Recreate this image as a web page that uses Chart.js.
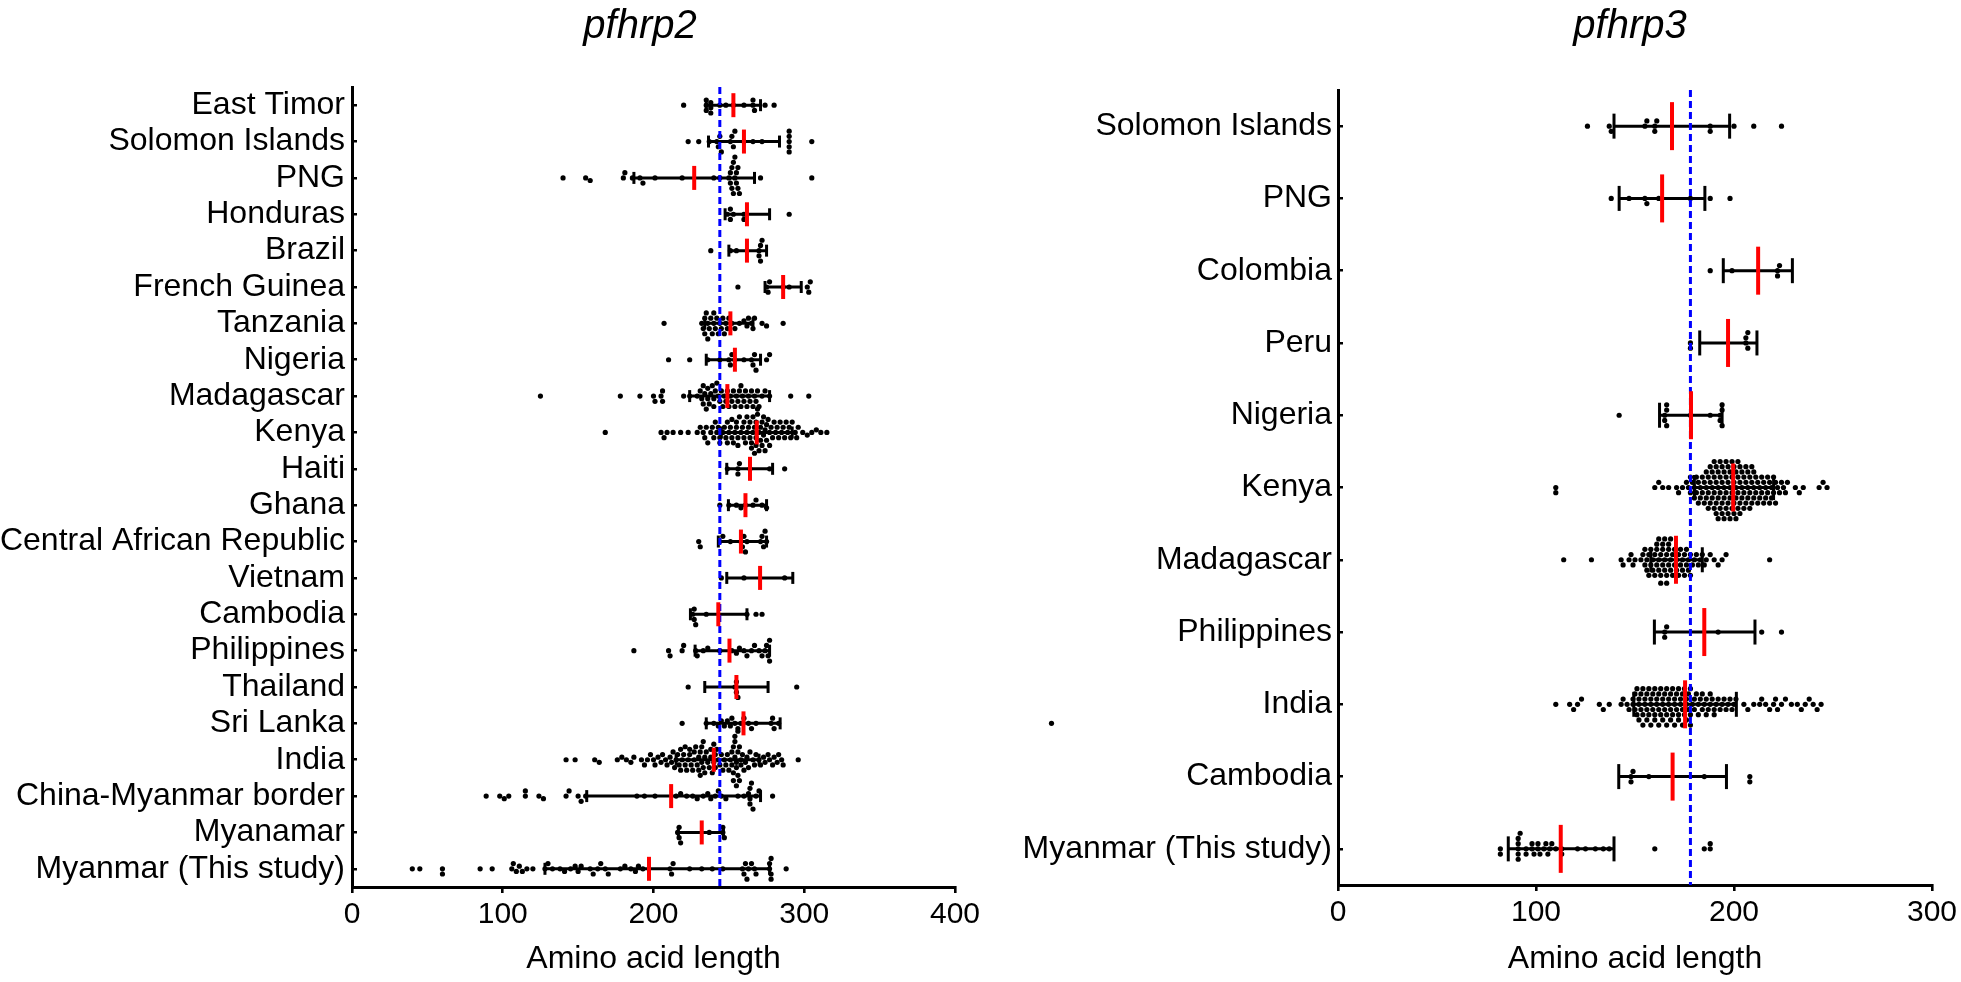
<!DOCTYPE html>
<html>
<head>
<meta charset="utf-8">
<script src="https://cdn.jsdelivr.net/npm/chart.js@4.4.1/dist/chart.umd.min.js"></script>
<style>
  html, body { margin: 0; padding: 0; background: #fff; }
  body { width: 1961px; height: 982px; position: relative; overflow: hidden; font-family: "Liberation Sans", Arial, sans-serif; }
  canvas { position: absolute; top: 0; }
  #leftChart { left: 0; }
  #rightChart { left: 980px; }
  .panel-title { position: absolute; top: 4px; font-size: 40px; line-height: 40px; font-style: italic; color: #000; transform: translateX(-50%); white-space: nowrap; }
</style>
</head>
<body>
<canvas id="leftChart" width="1100" height="982"></canvas>
<canvas id="rightChart" width="981" height="982"></canvas>
<div class="panel-title" style="left:640px">pfhrp2</div>
<div class="panel-title" style="left:1630px">pfhrp3</div>
<script>
// pfhrp2 - paises (de arriba hacia abajo)
const hrp2Countries = ['East Timor', 'Solomon Islands', 'PNG', 'Honduras', 'Brazil', 'French Guinea', 'Tanzania', 'Nigeria',
  'Madagascar', 'Kenya', 'Haiti', 'Ghana', 'Central African Republic', 'Vietnam', 'Cambodia', 'Philippines', 'Thailand',
  'Sri Lanka', 'India', 'China-Myanmar border', 'Myanamar', 'Myanmar (This study)'];

// longitudes, una lista por país
const hrp2Lengths = [
  [220, 235, 235, 235, 238, 238, 238, 244, 248, 253, 260, 266, 266, 267, 274, 280],
  [223, 230, 237, 242, 243, 244, 245, 251, 252, 253, 254, 260, 266, 272, 290, 290, 290, 290, 290, 305],
  [140, 155, 158, 180, 181, 186, 191, 193, 201, 219, 240, 244, 250, 251, 251, 252, 252, 253, 253, 254, 254, 255, 255, 256, 256, 257, 271, 305],
  [249, 251, 251, 253, 260, 260, 290],
  [238, 251, 255, 270, 270, 271, 271, 272],
  [256, 275, 276, 277, 286, 290, 302, 303, 304],
  [207, 232, 233, 234, 234, 235, 236, 236, 237, 238, 239, 240, 240, 241, 242, 243, 244, 245, 246, 247, 248, 249, 250, 252, 254, 257, 260, 262, 263, 265, 266, 267, 272, 275, 286],
  [210, 224, 236, 244, 250, 251, 252, 254, 260, 265, 266, 267, 268, 275, 277],
  [125, 178, 191, 200, 201, 205, 206, 206, 220, 224, 229, 231, 232, 233, 233, 234, 235, 236, 236, 237, 238, 239, 240, 240, 241, 242, 243, 244,
   245, 246, 247, 248, 249, 250, 251, 252, 253, 254, 255, 256, 257, 258, 258, 259, 260, 261, 262, 263, 264, 265, 266, 267, 268, 269, 270, 272, 274, 277, 291, 303],
  [168, 205, 207, 209, 213, 218, 223, 229, 231, 233, 234, 235, 236, 238, 239, 240, 241, 242, 243, 244, 244,
   246, 247, 248, 249, 249, 250, 251, 252, 252, 253, 254, 255, 255, 256, 256,
   257, 258, 259, 260, 260, 261, 262, 262, 263, 264, 264, 265, 265, 266, 266, 267, 267, 268, 268, 268, 269, 269, 270, 270, 271, 271,
   272, 272, 273, 273, 274, 274, 275, 275, 276, 277, 277, 278, 279, 280,
   281, 282, 283, 284, 285, 286, 287, 288, 289, 290, 291, 292, 294, 295, 296, 299, 302, 305, 308, 311, 315],
  [249, 256, 256, 257, 264, 277, 287],
  [244, 250, 255, 258, 261, 266, 268, 272, 275],
  [230, 231, 244, 246, 251, 258, 259, 260, 261, 262, 271, 272, 273, 274, 275],
  [245, 260, 287],
  [226, 227, 227, 228, 235, 262, 268, 272],
  [187, 210, 211, 219, 220, 228, 229, 233, 236, 244, 252, 255, 257, 260, 262, 265, 267, 270, 272, 274, 275, 276, 277, 277],
  [223, 254, 255, 255, 256, 295],
  [219, 235, 240, 243, 245, 247, 249, 251, 252, 254, 256, 258, 260, 263, 265, 268, 278, 279, 280, 283, 464],
  [142, 148, 161, 164, 176, 179, 182, 185, 187, 192, 194, 196, 198, 200, 201, 203, 205, 206, 208, 209, 211, 212,
   213, 214, 215, 216, 217, 218, 218, 219, 220, 221, 221, 222, 223, 224, 224, 225, 226, 227, 227, 228, 229, 230, 230, 231, 231, 232, 232,
   233, 233, 234, 234, 235, 236, 237, 238, 238, 239, 240, 240, 241, 241, 242, 243, 244, 245,
   246, 247, 248, 249, 250, 251, 252, 252, 253, 253, 253, 254, 254, 254, 255, 255, 255, 256, 256, 256, 257, 257, 258, 258, 259, 260, 261,
   262, 263, 264, 266, 267, 268, 270, 271, 273, 274, 276, 277, 279, 280, 282, 283, 285, 286, 296],
  [89, 98, 101, 104, 115, 115, 124, 127, 142, 144, 150, 152, 155, 189, 194, 201, 215, 218, 222, 226, 229, 233, 236, 238, 241, 243, 245, 248,
   256, 260, 263, 264, 264, 264, 265, 266, 268, 270, 279],
  [216, 217, 217, 218, 237, 246, 246, 247],
  [40, 45, 60, 60, 85, 93, 106, 107, 109, 111, 113, 116, 120, 128, 130, 133, 138, 141, 145, 148, 150, 152, 158, 160, 163, 165, 168, 170,
   178, 181, 185, 188, 190, 193, 211, 212, 213, 224, 232, 239, 246, 259, 260, 261, 262, 263, 265, 267, 268, 277, 277, 278, 278, 278, 288]
];
const hrp2Low = [235, 236.5, 187, 247.5, 250, 274, 234, 235, 224, 245, 248.6, 249.7, 243, 248.6, 224.5, 227.6, 234, 235, 215, 155.7, 216.5, 128];
const hrp2High = [271, 283.6, 267, 277, 275, 298, 266, 271, 277, 292, 279, 275, 275, 292.4, 262, 277, 276, 284, 270, 271, 246.4, 277];
const hrp2Center = [253, 260, 227, 262, 262, 286, 251, 254, 249, 268.5, 264, 261, 258, 270.7, 243, 250.4, 255, 259.7, 240, 211.7, 232, 197];
const hrp2Cutoff = 244;
const hrp2Ticks = [0, 100, 200, 300, 400];

// pfhrp3
const hrp3Countries = ['Solomon Islands', 'PNG', 'Colombia', 'Peru', 'Nigeria', 'Kenya', 'Madagascar', 'Philippines', 'India',
  'Cambodia', 'Myanmar (This study)'];

const hrp3Lengths = [
  [126, 137, 138, 155, 156, 160, 160, 161, 188, 188, 200, 210, 224],
  [138, 147, 155, 156, 162, 178, 188, 198],
  [188, 199, 222, 222, 223],
  [178, 178, 206, 206, 207, 207],
  [142, 165, 165, 166, 166, 166, 178, 188, 193, 193, 194, 194, 194],
  [110, 110, 160, 162, 164, 167, 171, 172, 174, 176,
   177, 178, 178, 179, 180, 180, 181, 181, 182, 182, 183, 183, 184, 184, 185, 185, 186, 186, 186, 187, 187, 187,
   188, 188, 188, 189, 189, 189, 190, 190, 190, 190, 191, 191, 191, 191, 192, 192, 192, 192, 193, 193, 193, 193,
   194, 194, 194, 194, 195, 195, 195, 195, 196, 196, 196, 196, 197, 197, 197, 197, 198, 198, 198, 198, 199, 199, 199, 199,
   200, 200, 200, 200, 201, 201, 201, 201, 202, 202, 202, 202, 203, 203, 203, 203, 204, 204, 204, 205, 205, 205,
   206, 206, 206, 207, 207, 207, 208, 208, 208, 209, 209, 209, 210, 210, 210,
   211, 211, 212, 212, 213, 213, 214, 214, 215, 215, 216, 216, 217, 217, 218, 218, 219, 219, 220, 220, 221, 221, 222, 223, 224, 225, 226, 227,
   231, 233, 235, 243, 245, 247],
  [114, 128, 143, 144, 147, 148, 149, 150, 153, 154, 155, 155, 156, 156, 157, 157, 158, 158, 159, 159, 160, 160,
   161, 161, 161, 162, 162, 162, 163, 163, 163, 164, 164, 164, 165, 165, 165, 166, 166, 166, 167, 167, 167, 168, 168, 168,
   169, 169, 170, 170, 171, 171, 172, 172, 173, 173, 174, 174, 175, 175, 176, 176, 177, 177, 178, 178,
   179, 180, 181, 182, 183, 184, 185, 186, 188, 190, 192, 194, 196, 218],
  [165, 165, 166, 192, 214, 224],
  [110, 117, 119, 121, 123, 132, 134, 137, 143, 144, 146, 147,
   149, 149, 150, 150, 151, 151, 152, 152, 152, 153, 153, 154, 154, 154, 155, 155, 156, 156, 156, 157, 157, 158, 158, 158, 159, 159,
   160, 160, 160, 161, 161, 162, 162, 162, 163, 163, 164, 164, 164, 165, 165, 166, 166, 166, 167, 167, 168, 168, 168, 169, 169,
   170, 170, 170, 171, 171, 172, 172, 172, 173, 173, 174, 174, 174, 175, 175, 176, 176, 176, 177, 177, 178, 178, 178, 179,
   180, 180, 181, 182, 182, 183, 184, 184, 185, 186, 186, 187, 188, 188, 189, 190, 190, 191, 192, 193, 194, 195, 196, 197, 198, 199, 200, 201,
   205, 207, 210, 213, 214, 216, 218, 220, 221, 222, 224, 226, 229, 232, 234, 236, 238, 240, 242, 244],
  [148, 148, 149, 157, 185, 208, 208],
  [82, 82, 91, 91, 91, 91, 91, 92, 95, 95, 98, 98, 99, 101, 101, 102, 104, 105, 106, 107, 108, 110, 113, 113, 121, 125, 130, 134, 137,
   160, 185, 188, 188]
];
const hrp3Low = [139.4, 142, 194.6, 182.7, 162.4, 180, 158, 159.8, 149.4, 141.8, 86];
const hrp3High = [197.8, 185.3, 229.5, 211.6, 194, 220, 184, 210.6, 201.2, 196.2, 139.4];
const hrp3Center = [168.7, 163.7, 212.2, 197, 178.3, 199.6, 170.7, 185, 175.3, 169, 112.5];
const hrp3Cutoff = 178;
const hrp3Ticks = [0, 100, 200, 300];

Chart.defaults.font.family = '"Liberation Sans", Arial, sans-serif';
Chart.defaults.color = '#000';

// Los puntos fuera del eje (p.ej. Sri Lanka > 400) también se dibujan: se amplía el área solo para el dataset de puntos
const looseDots = {
  id: 'looseDots',
  beforeDatasetDraw(chart, args) {
    if (args.index !== 0) return;
    chart.$savedArea = chart.chartArea;
    chart.chartArea = Object.assign({}, chart.chartArea, { left: 0, top: 0, right: chart.width, bottom: chart.height });
  },
  afterDatasetDraw(chart, args) {
    if (args.index !== 0 || !chart.$savedArea) return;
    chart.chartArea = chart.$savedArea;
    chart.$savedArea = null;
  }
};

// Reparte los puntos de cada fila en enjambre (sin solaparse) usando las escalas del gráfico
function swarm(chart, groups, diam) {
  const xs = chart.scales.x, ys = chart.scales.y;
  const perCat = Math.abs(ys.getPixelForValue(1) - ys.getPixelForValue(0));
  const step = diam / 2;
  const out = [];
  groups.forEach((vals, i) => {
    const placed = [];
    let flip = false;
    vals.map(v => ({ v, px: xs.getPixelForValue(v) }))
      .sort((a, b) => a.px - b.px)
      .forEach(p => {
        const near = placed.filter(q => p.px - q.px < diam);
        let off = 0;
        for (let k = 0; k < 200; k++) {
          const cands = k === 0 ? [0] : (flip ? [-k * step, k * step] : [k * step, -k * step]);
          const ok = cands.find(c => near.every(q => (q.px - p.px) ** 2 + (q.off - c) ** 2 >= diam * diam));
          if (ok !== undefined) { off = ok; break; }
        }
        if (off !== 0) flip = off > 0;
        p.off = off;
        placed.push(p);
        out.push({ x: p.v, y: i + off / perCat });
      });
  });
  return out;
}

function buildPanel(canvasId, cats, lengths, low, high, center, cutoff, ticks, dims) {
  const n = cats.length;
  const dots = [];
  lengths.forEach((vals, i) => vals.forEach(v => dots.push({ x: v, y: i })));
  const bars = [];
  cats.forEach((c, i) => { bars.push({ x: low[i], y: i }, { x: high[i], y: i }, { x: null, y: null }); });
  const mids = center.map((v, i) => ({ x: v, y: i }));
  const cutLine = [{ x: cutoff, y: -0.5 }, { x: cutoff, y: n - 0.5 }];

  const chart = new Chart(document.getElementById(canvasId), {
    type: 'scatter',
    plugins: [looseDots],
    data: {
      datasets: [
        { label: 'length', data: dots, order: 3, pointRadius: 2.6, pointBackgroundColor: '#000', pointBorderWidth: 0, clip: false },
        { label: 'range', data: bars, order: 2, showLine: true, borderColor: '#000', borderWidth: 3,
          pointStyle: 'line', rotation: 90, pointRadius: dims.cap, pointBorderColor: '#000', pointBorderWidth: 3 },
        { label: 'cutoff', data: cutLine, order: 1, showLine: true, borderColor: '#0000ff', borderWidth: 3,
          borderDash: [7, 4], pointRadius: 0 },
        { label: 'mean', data: mids, order: 0, pointStyle: 'line', rotation: 90, pointRadius: dims.mid,
          pointBorderColor: '#ff0000', pointBorderWidth: 4 }
      ]
    },
    options: {
      responsive: false,
      animation: false,
      events: [],
      layout: { padding: { top: dims.top, right: dims.right, left: 0, bottom: 0 } },
      plugins: { legend: { display: false }, tooltip: { enabled: false } },
      scales: {
        x: {
          type: 'linear', min: 0, max: ticks[ticks.length - 1],
          afterFit: s => { s.height = dims.xh; },
          afterBuildTicks: s => { s.ticks = ticks.map(v => ({ value: v })); },
          grid: { drawOnChartArea: false, drawTicks: true, tickLength: 6, color: '#000', lineWidth: 2.6 },
          border: { display: true, color: '#000', width: 3 },
          ticks: { font: { size: 30 }, color: '#000', padding: 4, maxRotation: 0, autoSkip: false },
          title: { display: true, text: 'Amino acid length', font: { size: 32 }, color: '#000', padding: { top: 0, bottom: 4 } }
        },
        y: {
          type: 'linear', min: -0.5, max: n - 0.5, reverse: true,
          afterFit: s => { s.width = dims.yw; },
          afterBuildTicks: s => { s.ticks = cats.map((c, i) => ({ value: i })); },
          // marcas cortas hacia dentro del área, como en la figura original
          grid: { drawOnChartArea: false, drawTicks: true, tickLength: -5, color: '#000', lineWidth: 2.5 },
          border: { display: true, color: '#000', width: 3 },
          ticks: { autoSkip: false, font: { size: 32 }, color: '#000', padding: dims.pad, callback: v => cats[v] }
        }
      }
    }
  });
  chart.data.datasets[0].data = swarm(chart, lengths, 5.2);
  chart.update();
  return chart;
}

buildPanel('leftChart', hrp2Countries, hrp2Lengths, hrp2Low, hrp2High, hrp2Center, hrp2Cutoff, hrp2Ticks,
  { top: 87, right: 145, yw: 352, xh: 95, cap: 6, mid: 12, pad: 12 });
buildPanel('rightChart', hrp3Countries, hrp3Lengths, hrp3Low, hrp3High, hrp3Center, hrp3Cutoff, hrp3Ticks,
  { top: 90, right: 27, yw: 358, xh: 97, cap: 12.5, mid: 24, pad: 11 });
</script>
</body>
</html>
